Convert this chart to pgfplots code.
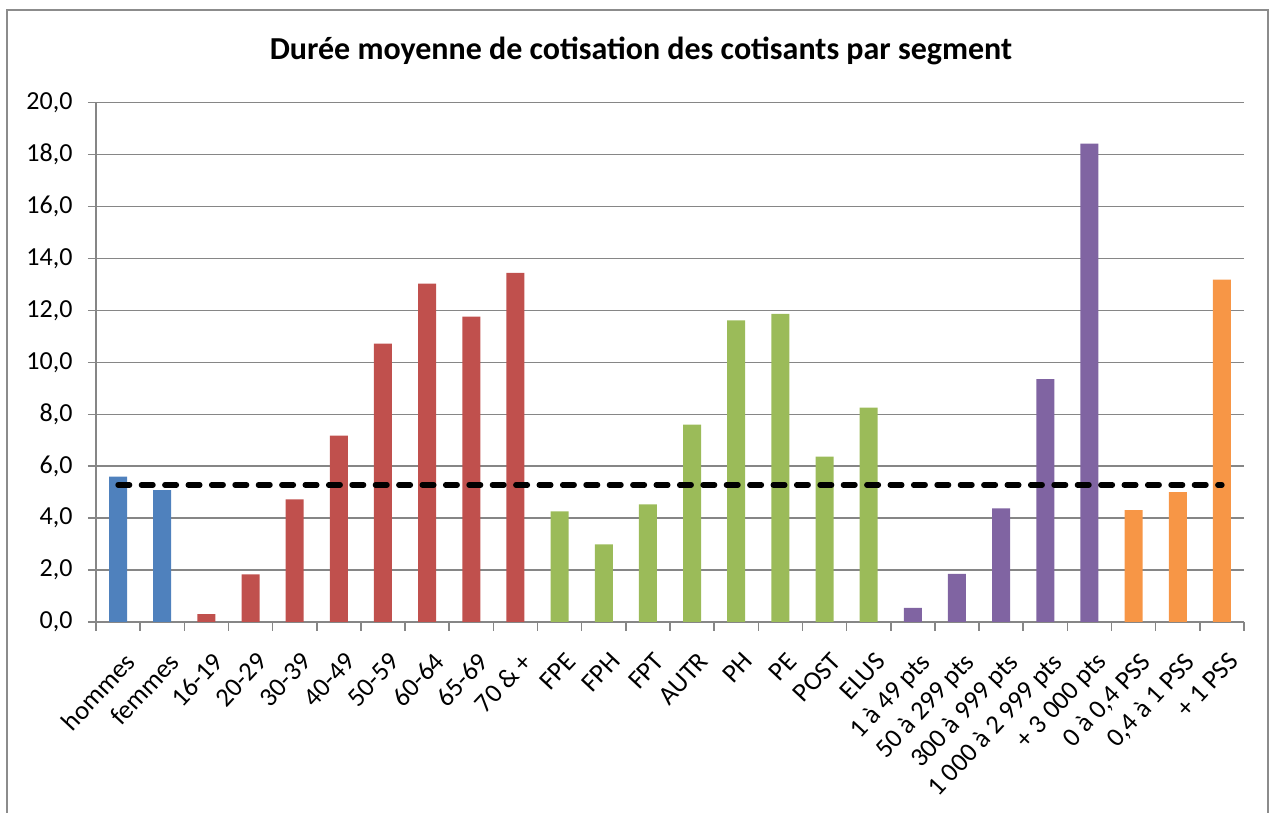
\documentclass[border=0pt]{standalone}
\usepackage{pgfplots}
\pgfplotsset{compat=1.18}
\usepackage{fontspec}
\setmainfont{Carlito}
\definecolor{cblue}{HTML}{4F81BD}
\definecolor{cred}{HTML}{C0504D}
\definecolor{cgreen}{HTML}{9BBB59}
\definecolor{cpurple}{HTML}{8064A2}
\definecolor{corange}{HTML}{F79646}
\definecolor{gridgray}{HTML}{868686}
\definecolor{bordergray}{HTML}{8C8C8C}
\begin{document}
\begin{tikzpicture}[x=1pt,y=1pt]
\path[use as bounding box] (0,0) rectangle (1272,813);
\draw[bordergray, line width=1.5pt] (7,803) rectangle (1268,-30);
\node[font=\fontsize{32}{38}\selectfont\bfseries] at (641,762) {Durée moyenne de cotisation des cotisants par segment};
\begin{axis}[
  at={(96pt,191pt)}, anchor=south west,
  scale only axis, width=1148pt, height=519.3pt,
  xmin=-0.5, xmax=25.5, ymin=0, ymax=20,
  axis lines*=left,
  axis line style={gridgray, line width=1.5pt},
  ymajorgrids, grid style={gridgray, line width=1.5pt},
  ytick={0,2,...,20},
  xtick={0,...,25},
  minor xtick={-0.5,0.5,...,25.5},
  tick align=outside,
  major tick length=8pt, minor tick length=9pt,
  tick style={gridgray, line width=1.5pt},
  major x tick style={draw=none},
  ticklabel style={text=black},
  /pgf/number format/.cd, fixed, fixed zerofill, precision=1, use comma, assume math mode=true, /pgfplots/.cd,
  yticklabel style={font=\fontsize{26}{30}\selectfont, xshift=-12pt},
  xticklabel style={font=\fontsize{26.5}{30}\selectfont, xshift=5pt, yshift=-18pt, rotate=47, anchor=north east, inner sep=2pt},
  xticklabels={hommes, femmes, 16-19, 20-29, 30-39, 40-49, 50-59, 60-64, 65-69, 70 \& +, FPE, FPH, FPT, AUTR, PH, PE, POST, ELUS, 1 à 49 pts, 50 à 299 pts, 300 à 999 pts, 1 000 à 2 999 pts, + 3 000 pts, {0 à 0,4 PSS}, {0,4 à 1 PSS}, + 1 PSS},
]
\addplot[ybar, bar shift=0pt, bar width=18pt, fill=cblue, draw=none] coordinates {(0,5.60) (1,5.08)};
\addplot[ybar, bar shift=0pt, bar width=18pt, fill=cred, draw=none] coordinates {(2,0.30) (3,1.83) (4,4.72) (5,7.18) (6,10.72) (7,13.03) (8,11.76) (9,13.45)};
\addplot[ybar, bar shift=0pt, bar width=18pt, fill=cgreen, draw=none] coordinates {(10,4.26) (11,2.99) (12,4.53) (13,7.60) (14,11.62) (15,11.87) (16,6.37) (17,8.26)};
\addplot[ybar, bar shift=0pt, bar width=18pt, fill=cpurple, draw=none] coordinates {(18,0.54) (19,1.85) (20,4.38) (21,9.35) (22,18.42)};
\addplot[ybar, bar shift=0pt, bar width=18pt, fill=corange, draw=none] coordinates {(23,4.31) (24,5.00) (25,13.19)};
\addplot[black, line width=5.5pt, line cap=round, dash pattern=on 11.5pt off 11.9pt, no marks] coordinates {(0,5.28) (25,5.28)};
\end{axis}
\end{tikzpicture}
\end{document}
